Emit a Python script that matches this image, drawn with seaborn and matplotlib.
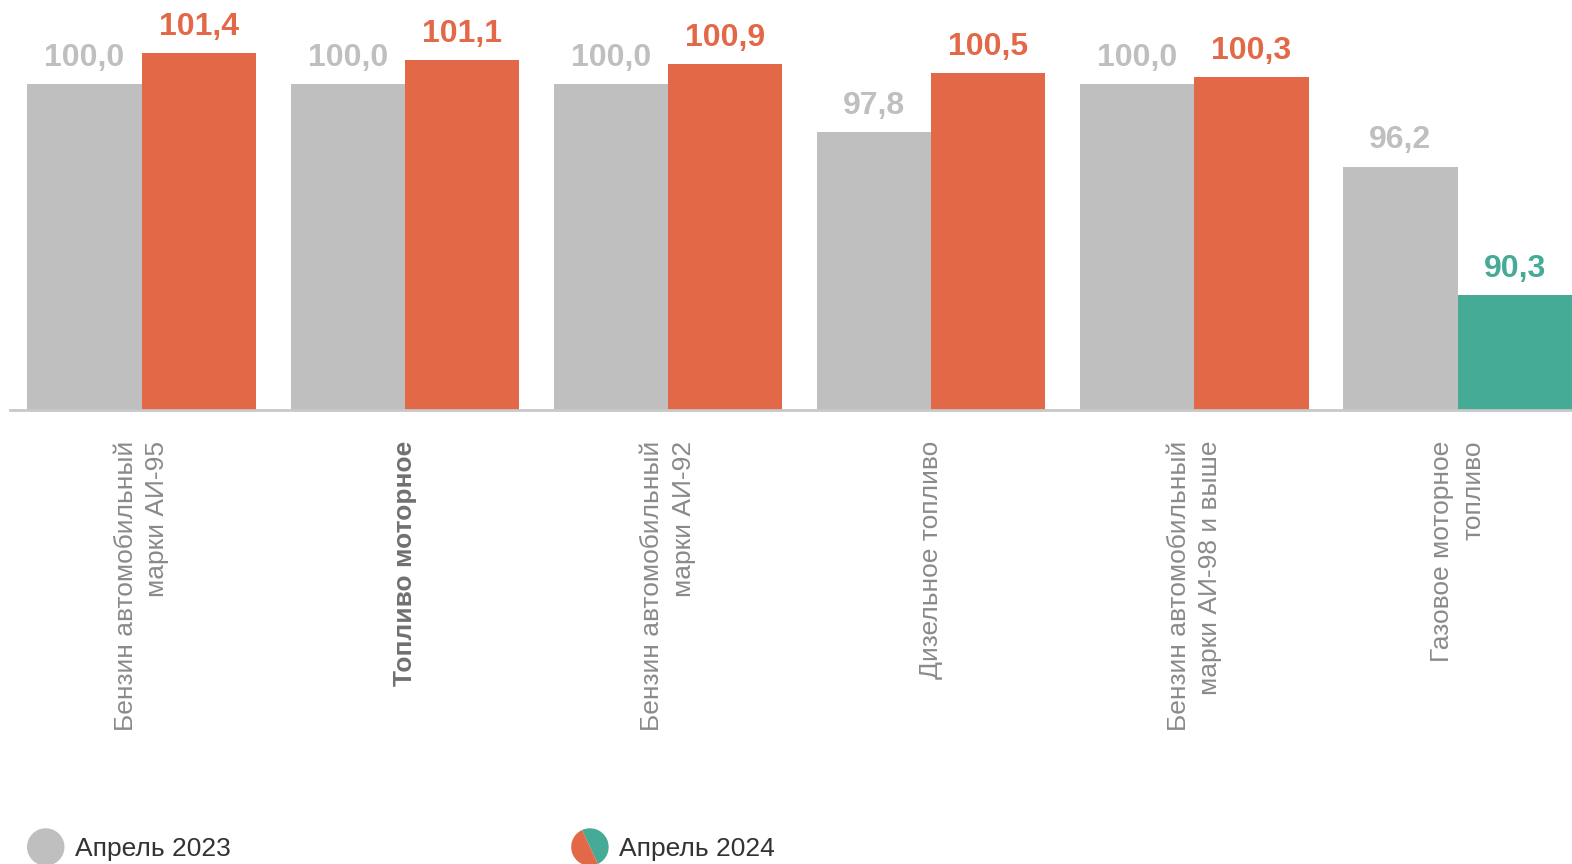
import matplotlib
matplotlib.use("Agg")
import matplotlib.pyplot as plt
from matplotlib.legend_handler import HandlerBase
from matplotlib.patches import Wedge
import pandas as pd
import seaborn as sns

# data
categories = [
    "Бензин автомобильный\nмарки АИ-95",
    "Топливо моторное",
    "Бензин автомобильный\nмарки АИ-92",
    "Дизельное топливо",
    "Бензин автомобильный\nмарки АИ-98 и выше",
    "Газовое моторное\nтопливо",
]
apr_2023 = [100.0, 100.0, 100.0, 97.8, 100.0, 96.2]
apr_2024 = [101.4, 101.1, 100.9, 100.5, 100.3, 90.3]
series = ["Апрель 2023", "Апрель 2024"]

GREY = "#BFBFBF"
ORANGE = "#E36847"
TEAL = "#45AA96"
TICK_GREY = "#8A8A8A"

df = pd.DataFrame({
    "category": categories * 2,
    "value": apr_2023 + apr_2024,
    "period": [series[0]] * len(categories) + [series[1]] * len(categories),
})

sns.set_theme(style="white")
plt.rcParams["font.family"] = ["Liberation Sans", "DejaVu Sans"]

fig = plt.figure(figsize=(15.72, 8.64), dpi=100)
ax = fig.add_axes([10 / 1572, 1 - 410 / 864, 1 - 10 / 1572, 410 / 864])

sns.barplot(
    data=df, x="category", y="value", hue="period",
    order=categories, hue_order=series,
    palette=[GREY, ORANGE], width=0.868, gap=0,
    saturation=1, linewidth=0, ax=ax, legend=False,
)

# last 2024 bar is a decrease -> teal
ax.containers[1].patches[-1].set_facecolor(TEAL)

fmt = lambda v: f"{v:.1f}".replace(".", ",")
t23 = ax.bar_label(ax.containers[0], labels=[fmt(v) for v in apr_2023],
                   padding=8, fontsize=23, fontweight="bold", color=GREY)
t24 = ax.bar_label(ax.containers[1], labels=[fmt(v) for v in apr_2024],
                   padding=8, fontsize=23, fontweight="bold", color=ORANGE)
for txt, v23, v24 in zip(t24, apr_2023, apr_2024):
    if v24 < v23 and v24 < 100:
        txt.set_color(TEAL)

ax.set_ylim(85, 103.86)
ax.set_xlim(-0.5, 5.435)
ax.set_xlabel("")
ax.set_ylabel("")
ax.set_yticks([])
for s in ["top", "right", "left"]:
    ax.spines[s].set_visible(False)
ax.spines["bottom"].set_color("#C8C8C8")
ax.spines["bottom"].set_linewidth(2)

ax.tick_params(axis="x", length=0, pad=22)
ax.set_xticks(range(len(categories)))
ax.set_xticklabels(categories, rotation=90, ha="center", va="top",
                   multialignment="right", linespacing=1.38,
                   fontsize=19, color=TICK_GREY)
ax.get_xticklabels()[1].set_fontweight("bold")
ax.get_xticklabels()[1].set_color("#707070")


class CircleHandler(HandlerBase):
    def __init__(self, colors, split=-65):
        super().__init__()
        self.colors = colors
        self.split = split

    def create_artists(self, legend, orig_handle, xdescent, ydescent,
                       width, height, fontsize, trans):
        cx = width / 2 - xdescent
        cy = height / 2 - ydescent
        r = width / 2
        if len(self.colors) == 1:
            return [Wedge((cx, cy), r, 0, 360, facecolor=self.colors[0],
                          edgecolor="none", transform=trans)]
        a = self.split
        return [
            Wedge((cx, cy), r, a, a + 180, facecolor=self.colors[0],
                  edgecolor="none", transform=trans),
            Wedge((cx, cy), r, a + 180, a + 360, facecolor=self.colors[1],
                  edgecolor="none", transform=trans),
        ]


h1, h2 = object(), object()
fig.legend(
    [h1, h2], series,
    handler_map={h1: CircleHandler([GREY]), h2: CircleHandler([TEAL, ORANGE])},
    loc="center left", bbox_to_anchor=(27 / 1572, 17 / 864),
    ncol=2, frameon=False, fontsize=19, labelcolor="#333333",
    handlelength=1.42, handleheight=1.42, handletextpad=0.4,
    columnspacing=12.9, borderpad=0, borderaxespad=0,
)

fig.savefig("out.png", dpi=100)
plt.close(fig)
